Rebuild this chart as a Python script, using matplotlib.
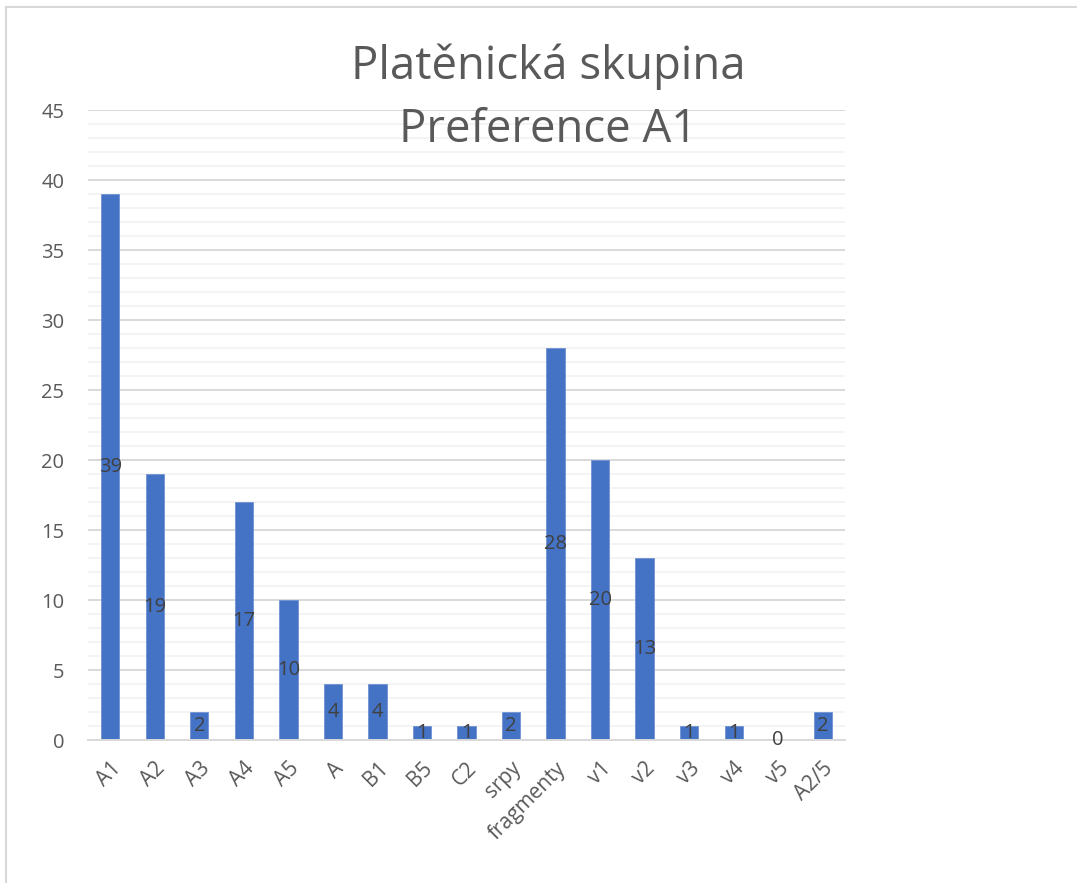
import matplotlib
matplotlib.use("Agg")
import matplotlib.pyplot as plt
from matplotlib.lines import Line2D
import numpy as np

categories = ["A1", "A2", "A3", "A4", "A5", "A", "B1", "B5", "C2", "srpy",
              "fragmenty", "v1", "v2", "v3", "v4", "v5", "A2/5"]
values = [39, 19, 2, 17, 10, 4, 4, 1, 1, 2, 28, 20, 13, 1, 1, 0, 2]
title_lines = ["Platěnická skupina", "Preference A1"]

plt.rcParams['font.family'] = ['Open Sans', 'DejaVu Sans']

fig = plt.figure(figsize=(10.77, 8.83), dpi=100)
W, H = 1077, 883
ax = fig.add_axes([88 / W, (H - 740) / H, (845 - 88) / W, (740 - 110) / H])

x = np.arange(len(categories))
bars = ax.bar(x, values, width=0.41, color="#4472C4", edgecolor="#6f92d3",
              linewidth=0.6, zorder=3)

ax.set_xlim(-0.5, len(categories) - 0.5)
ax.set_ylim(0, 45)
ax.set_yticks(np.arange(0, 46, 5))
ax.set_yticks(np.arange(0, 46, 1), minor=True)
ax.grid(axis='y', which='major', color="#d9d9d9", linewidth=1.4, zorder=0)
ax.grid(axis='y', which='minor', color="#f2f2f2", linewidth=1.2, zorder=0)
ax.tick_params(axis='y', which='both', length=0, labelsize=14.5, labelcolor="#595959", pad=17)
ax.tick_params(axis='x', which='both', length=0, labelsize=15, labelcolor="#595959", pad=13)
for s in ["top", "right", "left"]:
    ax.spines[s].set_visible(False)
ax.spines["bottom"].set_color("#d9d9d9")
ax.spines["bottom"].set_linewidth(1.4)
ax.spines["bottom"].set_zorder(4)

ax.set_xticks(x)
ax.set_xticklabels(categories, rotation=45, ha='right', rotation_mode='anchor')

for xi, v in zip(x, values):
    ax.text(xi, v / 2, str(v), ha='center', va='center', fontsize=14.5,
            color="#404040", zorder=5)

fig.text(548 / W, 1 - 67 / H, title_lines[0], ha='center', va='center',
         fontsize=32.8, color="#595959")
fig.text(548 / W, 1 - 130 / H, title_lines[1], ha='center', va='center',
         fontsize=32.8, color="#595959")

# chart border
fig.add_artist(Line2D([6 / W, 6 / W], [0, 1 - 7 / H], transform=fig.transFigure,
                      color="#d9d9d9", linewidth=1.5))
fig.add_artist(Line2D([6 / W, 1], [1 - 7 / H, 1 - 7 / H], transform=fig.transFigure,
                      color="#d9d9d9", linewidth=1.5))

fig.savefig("out.png", dpi=100)
